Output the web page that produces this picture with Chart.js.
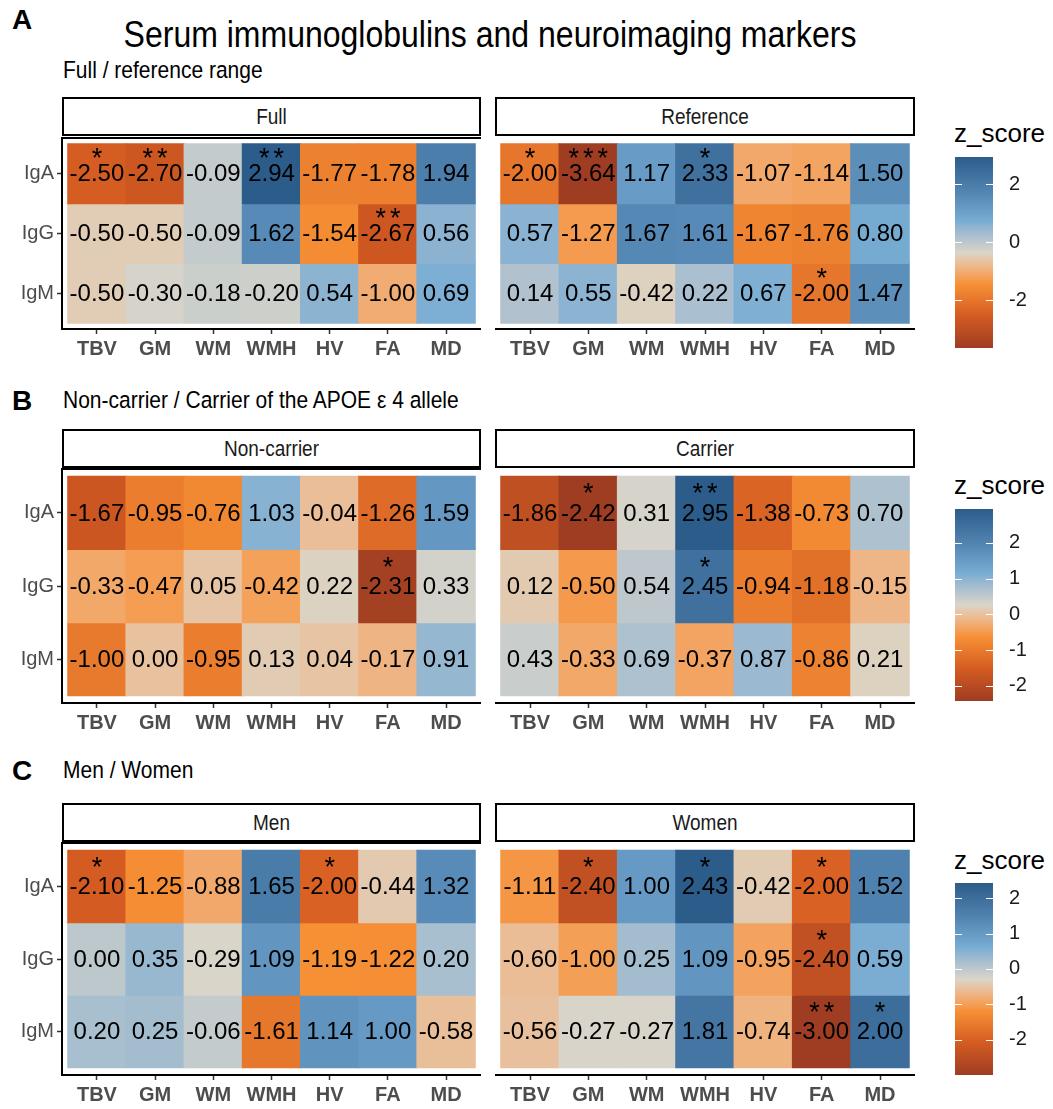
<!DOCTYPE html>
<html><head><meta charset="utf-8">
<script src="https://cdn.jsdelivr.net/npm/chart.js@4.4.1/dist/chart.umd.min.js"></script>
<style>
html,body{margin:0;padding:0;background:#fff;}
body{width:1053px;height:1109px;position:relative;overflow:hidden;font-family:"Liberation Sans",Arial,sans-serif;}
.t{position:absolute;white-space:nowrap;color:#000;line-height:1;}
.tall{transform:scaleY(1.18);transform-origin:0 50%;}
.strip{position:absolute;border:2px solid #000;box-sizing:border-box;background:#fff;display:flex;align-items:center;justify-content:center;font-size:19px;color:#1a1a1a;}
.strip span{display:inline-block;transform:scaleY(1.18);}
canvas{position:absolute;}
</style></head><body>
<div class="t" style="left:12px;top:6px;font-size:28px;font-weight:bold;">A</div>
<div class="t tall" style="left:0;width:980px;text-align:center;top:18px;font-size:32px;transform-origin:50% 50%;">Serum immunoglobulins and neuroimaging markers</div>
<div class="t tall" style="left:63px;top:59px;font-size:21px;">Full / reference range</div>
<div class="t" style="left:12px;top:387px;font-size:28px;font-weight:bold;">B</div>
<div class="t tall" style="left:63px;top:389px;font-size:21px;">Non-carrier / Carrier of the APOE &#949; 4 allele</div>
<div class="t" style="left:12px;top:757px;font-size:28px;font-weight:bold;">C</div>
<div class="t tall" style="left:63px;top:759px;font-size:21px;">Men / Women</div>
<div id="root"></div>
<script>
// ---------- data ----------
const rowLabels = ['IgA', 'IgG', 'IgM'];
const colLabels = ['TBV', 'GM', 'WM', 'WMH', 'HV', 'FA', 'MD'];

const fullZ = [
  [-2.50, -2.70, -0.09, 2.94, -1.77, -1.78, 1.94],
  [-0.50, -0.50, -0.09, 1.62, -1.54, -2.67, 0.56],
  [-0.50, -0.30, -0.18, -0.20, 0.54, -1.00, 0.69]
];
const fullSig = [
  ['*', '**', '', '**', '', '', ''],
  ['', '', '', '', '', '**', ''],
  ['', '', '', '', '', '', '']
];
const referenceZ = [
  [-2.00, -3.64, 1.17, 2.33, -1.07, -1.14, 1.50],
  [0.57, -1.27, 1.67, 1.61, -1.67, -1.76, 0.80],
  [0.14, 0.55, -0.42, 0.22, 0.67, -2.00, 1.47]
];
const referenceSig = [
  ['*', '***', '', '*', '', '', ''],
  ['', '', '', '', '', '', ''],
  ['', '', '', '', '', '*', '']
];
const nonCarrierZ = [
  [-1.67, -0.95, -0.76, 1.03, -0.04, -1.26, 1.59],
  [-0.33, -0.47, 0.05, -0.42, 0.22, -2.31, 0.33],
  [-1.00, 0.00, -0.95, 0.13, 0.04, -0.17, 0.91]
];
const nonCarrierSig = [
  ['', '', '', '', '', '', ''],
  ['', '', '', '', '', '*', ''],
  ['', '', '', '', '', '', '']
];
const carrierZ = [
  [-1.86, -2.42, 0.31, 2.95, -1.38, -0.73, 0.70],
  [0.12, -0.50, 0.54, 2.45, -0.94, -1.18, -0.15],
  [0.43, -0.33, 0.69, -0.37, 0.87, -0.86, 0.21]
];
const carrierSig = [
  ['', '*', '', '**', '', '', ''],
  ['', '', '', '*', '', '', ''],
  ['', '', '', '', '', '', '']
];
const menZ = [
  [-2.10, -1.25, -0.88, 1.65, -2.00, -0.44, 1.32],
  [0.00, 0.35, -0.29, 1.09, -1.19, -1.22, 0.20],
  [0.20, 0.25, -0.06, -1.61, 1.14, 1.00, -0.58]
];
const menSig = [
  ['*', '', '', '', '*', '', ''],
  ['', '', '', '', '', '', ''],
  ['', '', '', '', '', '', '']
];
const womenZ = [
  [-1.11, -2.40, 1.00, 2.43, -0.42, -2.00, 1.52],
  [-0.60, -1.00, 0.25, 1.09, -0.95, -2.40, 0.59],
  [-0.56, -0.27, -0.27, 1.81, -0.74, -3.00, 2.00]
];
const womenSig = [
  ['', '*', '', '*', '', '*', ''],
  ['', '', '', '', '', '*', ''],
  ['', '', '', '', '', '**', '*']
];
const stripLabels = [['Full', 'Reference'], ['Non-carrier', 'Carrier'], ['Men', 'Women']];
const legendBreaksA = [-2, 0, 2];
const legendBreaksB = [-2, -1, 0, 1, 2];
const legendBreaksC = [-2, -1, 0, 1, 2];
const paletteColors = ['#9e3d22', '#d45b21', '#f69035', '#d9d5c9', '#77acd3', '#4f81af', '#2b5c8a'];

// ---------- colour ----------
function hexToRgb(h){return [parseInt(h.slice(1,3),16),parseInt(h.slice(3,5),16),parseInt(h.slice(5,7),16)];}
function s2l(c){c/=255;return c<=0.04045?c/12.92:Math.pow((c+0.055)/1.055,2.4);}
function l2s(c){const v=c<=0.0031308?12.92*c:1.055*Math.pow(c,1/2.4)-0.055;return Math.round(Math.max(0,Math.min(1,v))*255);}
function rgbToLab(rgb){const [r,g,b]=rgb.map(s2l);const X=(0.4124*r+0.3576*g+0.1805*b)/0.95047,Y=0.2126*r+0.7152*g+0.0722*b,Z=(0.0193*r+0.1192*g+0.9505*b)/1.08883;const f=t=>t>0.008856?Math.cbrt(t):7.787*t+16/116;const fx=f(X),fy=f(Y),fz=f(Z);return [116*fy-16,500*(fx-fy),200*(fy-fz)];}
function labToRgb(l){const fy=(l[0]+16)/116,fx=fy+l[1]/500,fz=fy-l[2]/200;const fi=t=>{const t3=t*t*t;return t3>0.008856?t3:(t-16/116)/7.787;};const X=fi(fx)*0.95047,Y=fi(fy),Z=fi(fz)*1.08883;return [l2s(3.2406*X-1.5372*Y-0.4986*Z),l2s(-0.9689*X+1.8758*Y+0.0415*Z),l2s(0.0557*X-0.2040*Y+1.0570*Z)];}
const paletteLab = paletteColors.map(h=>rgbToLab(hexToRgb(h)));
function colorFor(v, lo, hi){
  let t=(v-lo)/(hi-lo); t=Math.max(0,Math.min(1,t));
  const n=paletteLab.length-1; let i=Math.floor(t*n); if(i>=n) i=n-1; const f=t*n-i;
  const a=paletteLab[i], b=paletteLab[i+1];
  const rgb=labToRgb([a[0]+(b[0]-a[0])*f,a[1]+(b[1]-a[1])*f,a[2]+(b[2]-a[2])*f]);
  return 'rgb('+rgb.join(',')+')';
}

// ---------- layout ----------
const panelRows = [{y:138,h:191,stripY:97},{y:469,h:234,stripY:429},{y:843,h:232,stripY:803}];
const panelCols = [{x:62,w:419},{x:495,w:420}];
const legendBoxes = [{top:157,bottom:348,titleY:120},{top:509,bottom:701,titleY:472},{top:883,bottom:1075,titleY:847}];
const AXH = 45, YAXW = 62, PADT = 4;
const root = document.getElementById('root');
const noPad = (s)=>{s.paddingTop=0;s.paddingBottom=0;s.paddingLeft=0;s.paddingRight=0;};

const groups = [
  {facets:[[fullZ,fullSig],[referenceZ,referenceSig]], breaks:legendBreaksA},
  {facets:[[nonCarrierZ,nonCarrierSig],[carrierZ,carrierSig]], breaks:legendBreaksB},
  {facets:[[menZ,menSig],[womenZ,womenSig]], breaks:legendBreaksC}
];

const cellTextPlugin = {
  id:'cellText',
  afterDatasetsDraw(chart){
    const o = chart.options.plugins.cellText; const ctx = chart.ctx;
    const xs = chart.scales.x, ys = chart.scales.y;
    ctx.save();
    ctx.textAlign='center'; ctx.textBaseline='middle'; ctx.fillStyle='#000';
    o.z.forEach((row,r)=>row.forEach((v,c)=>{
      const px = xs.getPixelForValue(c), py = ys.getPixelForValue(2-r);
      ctx.font='24px "Liberation Sans", Arial, sans-serif';
      ctx.letterSpacing='0px';
      ctx.fillText(v.toFixed(2), px, py+1);
      const s = o.sig[r][c];
      if(s){
        ctx.font='27px "Liberation Sans", Arial, sans-serif';
        ctx.letterSpacing='4px';
        ctx.fillText(s, px+2, ys.getPixelForValue(2-r+0.3)+4);
      }
    }));
    ctx.restore();
  },
  afterDraw(chart){
    const o = chart.options.plugins.cellText;
    if(o.frame !== true) return;
    const a = chart.chartArea, ctx = chart.ctx;
    ctx.save(); ctx.strokeStyle='#000'; ctx.lineWidth=2;
    ctx.beginPath(); ctx.moveTo(a.left-1,a.top); ctx.lineTo(a.right,a.top); ctx.stroke();
    ctx.restore();
  }
};

const legendTickPlugin = {
  id:'legendTicks',
  afterDatasetsDraw(chart){
    const o = chart.options.plugins.legendTicks; const ctx=chart.ctx; const a=chart.chartArea; const ys=chart.scales.y;
    ctx.save(); ctx.strokeStyle='#fff'; ctx.lineWidth=1;
    o.breaks.forEach(b=>{const y=Math.round(ys.getPixelForValue(b))+0.5;
      ctx.beginPath(); ctx.moveTo(a.left,y); ctx.lineTo(a.left+7,y); ctx.moveTo(a.right-7,y); ctx.lineTo(a.right,y); ctx.stroke();});
    ctx.restore();
  }
};

groups.forEach((grp, gi)=>{
  const pr = panelRows[gi];
  const all = grp.facets.flatMap(f=>f[0].flat());
  const lo = Math.min(...all), hi = Math.max(...all);
  grp.facets.forEach((fac, side)=>{
    const pc = panelCols[side];
    const [z, sig] = fac;
    // strip
    const st = document.createElement('div'); st.className='strip';
    st.style.left=pc.x+'px'; st.style.top=pr.stripY+'px'; st.style.width=pc.w+'px'; st.style.height='39px';
    const sp = document.createElement('span'); sp.textContent = stripLabels[gi][side]; st.appendChild(sp);
    root.appendChild(st);
    // chart
    const showY = side===0; const lw = showY?YAXW:0;
    const cv = document.createElement('canvas');
    cv.width = lw+pc.w; cv.height = pr.h+AXH+PADT;
    cv.style.left=(pc.x-lw)+'px'; cv.style.top=(pr.y-PADT)+'px';
    root.appendChild(cv);
    const datasets = rowLabels.map((rl, r)=>({
      label: rl,
      data: colLabels.map((cl, c)=>({x:c, y:[2-r-0.5, 2-r+0.5]})),
      backgroundColor: z[r].map(v=>colorFor(v, lo, hi)),
      borderWidth:0, grouped:false, barPercentage:1, categoryPercentage:1, inflateAmount:0.6
    }));
    new Chart(cv, {
      type:'bar',
      data:{datasets},
      plugins:[cellTextPlugin],
      options:{
        responsive:false, animation:false, events:[],
        layout:{padding:{top:PADT,left:0,right:0,bottom:0}},
        plugins:{legend:{display:false}, tooltip:{enabled:false}, cellText:{z, sig, frame:showY}},
        scales:{
          x:{type:'linear', min:-0.6, max:6.6, offset:false,
             afterBuildTicks:(s)=>{s.ticks=colLabels.map((c,i)=>({value:i}));},
             afterFit:(s)=>{s.height=AXH; noPad(s);},
             ticks:{callback:(v)=>colLabels[v], font:{family:'"Liberation Sans", Arial, sans-serif', size:20, weight:'bold'}, color:'#4d4d4d', padding:3, maxRotation:0, autoSkip:false},
             grid:{offset:false, drawOnChartArea:false, drawTicks:true, tickLength:5, tickColor:'#333', tickWidth:1.5},
             border:{display:true, color:'#000', width:2}},
          y:{type:'linear', min:-0.6, max:2.6, display:showY, beginAtZero:false,
             afterBuildTicks:(s)=>{s.ticks=[0,1,2].map(v=>({value:v}));},
             afterFit:(s)=>{s.width=showY?YAXW:0; noPad(s);},
             ticks:{display:showY, callback:(v)=>rowLabels[2-v], font:{family:'"Liberation Sans", Arial, sans-serif', size:20}, color:'#4d4d4d', padding:3, autoSkip:false},
             grid:{display:showY, drawOnChartArea:false, drawTicks:true, tickLength:5, tickColor:'#333', tickWidth:1.5},
             border:{display:showY, color:'#000', width:2}}
        }
      }
    });
  });
  // legend
  const lb = legendBoxes[gi];
  const tt = document.createElement('div'); tt.className='t';
  tt.style.left='954px'; tt.style.top=lb.titleY+'px'; tt.style.fontSize='26px'; tt.textContent='z_score';
  root.appendChild(tt);
  const lpad = 15;
  const lc = document.createElement('canvas');
  lc.width = 38+60; lc.height = (lb.bottom-lb.top)+2*lpad;
  lc.style.left='955px'; lc.style.top=(lb.top-lpad)+'px';
  root.appendChild(lc);
  new Chart(lc, {
    type:'bar',
    data:{labels:['z'], datasets:[{data:[[lo,hi]], borderWidth:0, barPercentage:1, categoryPercentage:1, inflateAmount:0,
      backgroundColor:(ctx)=>{
        const ch=ctx.chart; if(!ch.chartArea) return '#ccc';
        const ys=ch.scales.y; const y0=ys.getPixelForValue(lo), y1=ys.getPixelForValue(hi);
        const g=ch.ctx.createLinearGradient(0,y0,0,y1);
        for(let k=0;k<=60;k++){const v=lo+(hi-lo)*k/60; g.addColorStop(k/60, colorFor(v,lo,hi));}
        return g;
      }}]},
    plugins:[legendTickPlugin],
    options:{
      responsive:false, animation:false, events:[],
      layout:{padding:{top:lpad,bottom:lpad,left:0,right:0}},
      plugins:{legend:{display:false}, tooltip:{enabled:false}, legendTicks:{breaks:grp.breaks}},
      scales:{
        x:{display:false},
        y:{type:'linear', position:'right', min:lo, max:hi, beginAtZero:false,
           afterBuildTicks:(s)=>{s.ticks=grp.breaks.map(v=>({value:v}));},
           afterFit:(s)=>{s.width=60; noPad(s);},
           ticks:{callback:(v)=>String(v), font:{family:'"Liberation Sans", Arial, sans-serif', size:20}, color:'#1a1a1a', padding:16, autoSkip:false},
           grid:{display:false, drawTicks:false}, border:{display:false}}
      }
    }
  });
});
</script>
</body></html>
